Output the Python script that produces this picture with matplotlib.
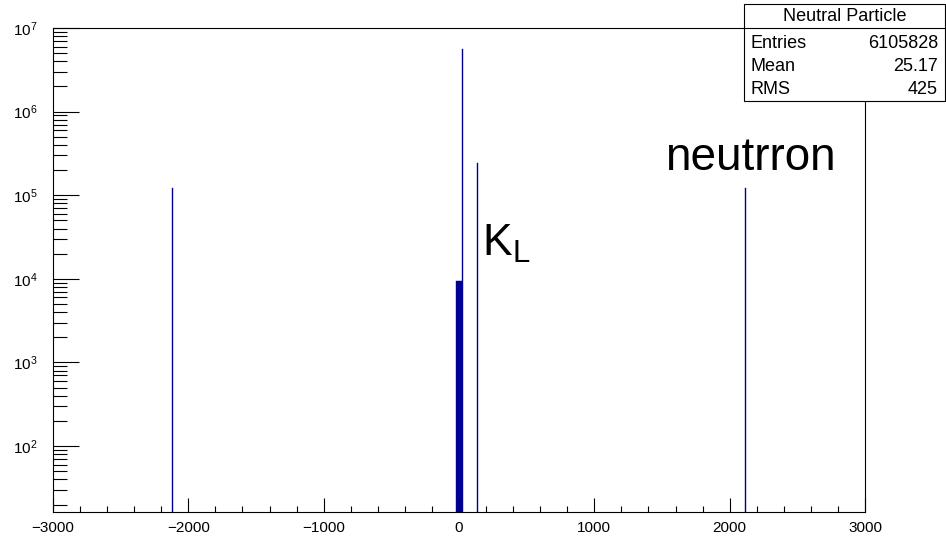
import matplotlib
matplotlib.use('Agg')
import matplotlib.pyplot as plt
import numpy as np
from matplotlib.ticker import LogLocator, NullFormatter, MultipleLocator, LogFormatterMathtext
from matplotlib.patches import Rectangle
from matplotlib.lines import Line2D

plt.rcParams['font.family'] = ['Liberation Sans', 'DejaVu Sans']
plt.rcParams['mathtext.fontset'] = 'custom'
plt.rcParams['mathtext.rm'] = 'Liberation Sans'
plt.rcParams['mathtext.it'] = 'Liberation Sans:italic'

# filled bins of the PDG-code histogram (bin width 10)
bin_lo = [-2120, -20, -10, 0, 10, 20, 130, 2110]
counts = [1.23e5, 9.4e3, 9.4e3, 9.4e3, 9.4e3, 5.56e6, 2.45e5, 1.23e5]
bin_width = 10

# stats box
hist_name = "Neutral Particle"
stat_names = ["Entries", "Mean", "RMS"]
stat_values = ["6105828", "25.17", "425"]

W, H = 946, 538
fig = plt.figure(figsize=(W / 100, H / 100), dpi=100)
ax = fig.add_axes([53 / W, 1 - 511.5 / H, (865 - 53) / W, (511.5 - 28) / H])

col = '#000096'
ax.bar(bin_lo, counts, width=bin_width, align='edge', color=col,
       edgecolor=col, linewidth=0.3)

ax.set_yscale('log')
ax.set_xlim(-3000, 3000)
ax.set_ylim(16.5, 1e7)

ax.xaxis.set_major_locator(MultipleLocator(1000))
ax.xaxis.set_minor_locator(MultipleLocator(200))
ax.yaxis.set_major_locator(LogLocator(base=10, numticks=20))
ax.yaxis.set_minor_locator(LogLocator(base=10, subs=np.arange(2, 10), numticks=100))
ax.yaxis.set_major_formatter(LogFormatterMathtext())
ax.yaxis.set_minor_formatter(NullFormatter())

ax.tick_params(axis='both', which='both', direction='in', top=False, right=False,
               width=0.8, colors='black', labelsize=11)
ax.tick_params(axis='y', which='major', length=19, pad=11)
ax.tick_params(axis='y', which='minor', length=10)
ax.tick_params(axis='x', which='major', length=10, pad=7)
ax.tick_params(axis='x', which='minor', length=4.5)
for s in ax.spines.values():
    s.set_linewidth(0.8)

ax.text(170, 1.87e4, r'$\mathrm{K}_{\mathrm{L}}$', fontsize=32, va='baseline', ha='left')
ax.text(1522, 2.0e5, 'neutrron', fontsize=33, va='baseline', ha='left')

# stats box in figure pixels
bx0, bx1, by0, by1 = 744, 945, 4, 101
fig.add_artist(Rectangle((bx0 / W, 1 - by1 / H), (bx1 - bx0) / W, (by1 - by0) / H,
                         transform=fig.transFigure, facecolor='white',
                         edgecolor='black', linewidth=0.8, zorder=10))
fig.add_artist(Line2D([bx0 / W, bx1 / W], [1 - 28 / H, 1 - 28 / H],
                      transform=fig.transFigure, color='black', linewidth=0.8, zorder=11))
fig.text((bx0 + bx1) / 2 / W, 1 - 16.5 / H, hist_name, ha='center', va='center',
         fontsize=13, zorder=12)
for i, (n, v) in enumerate(zip(stat_names, stat_values)):
    y = 1 - (43 + 23.5 * i) / H
    fig.text(750 / W, y, n, ha='left', va='center', fontsize=13, zorder=12)
    fig.text(938 / W, y, v, ha='right', va='center', fontsize=13, zorder=12)

fig.savefig('out.png', dpi=100)
